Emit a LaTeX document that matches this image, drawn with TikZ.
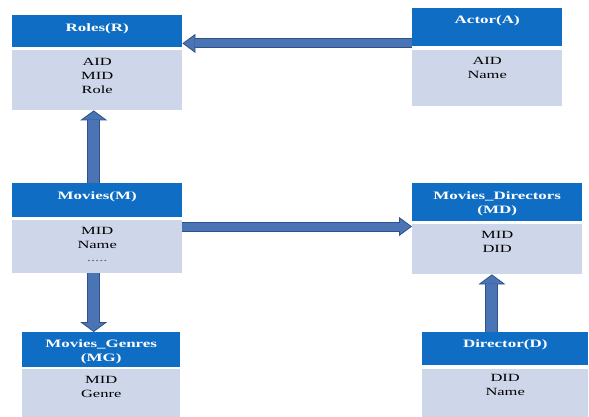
\documentclass[tikz,border=0pt]{standalone}
\usepackage{fontspec}
\setmainfont{Liberation Serif}[FakeStretch=1.5]
\usetikzlibrary{arrows.meta,calc}
\definecolor{hdrblue}{HTML}{0F6DC4}
\definecolor{bodyblue}{HTML}{CED6EA}
\definecolor{arrowfill}{HTML}{4A74B4}
\definecolor{arrowline}{HTML}{2F5288}
\begin{document}
\begin{tikzpicture}[x=1pt,y=-1pt,
  hdr/.style={fill=hdrblue, inner sep=0pt, anchor=north west},
  bdy/.style={fill=bodyblue, inner sep=0pt, anchor=north west},
  ttl/.style={text=white, font=\fontsize{11.3}{14}\selectfont\bfseries, align=center, inner sep=0pt, anchor=north},
  att/.style={text=black, font=\fontsize{11}{13.8}\selectfont, align=center, inner sep=0pt, anchor=north},
  harrow/.style={draw=arrowline, line width=10pt,
    -{Triangle[length=13pt,width=19pt,line width=0.8pt,fill=arrowfill]},
    postaction={draw=arrowfill, line width=8pt, -, shorten >=12.4pt}},
  varrow/.style={draw=arrowline, line width=13pt,
    -{Triangle[length=10pt,width=27pt,line width=0.8pt,fill=arrowfill]},
    postaction={draw=arrowfill, line width=11pt, -, shorten >=9.4pt}}
]
\useasboundingbox (0,0) rectangle (589,417);

% Roles(R)
\node[hdr, minimum width=170pt, minimum height=32pt] (Rh) at (12,15) {};
\node[bdy, minimum width=170pt, minimum height=60pt] (Rb) at (12,50) {};
\node[ttl] (Rt) at ($(Rh.north)+(0,8)$) {Roles(R)};
\node[att] (Ra) at ($(Rb.north)+(0,8)$) {AID\\MID\\Role};

% Actor(A)
\node[hdr, minimum width=150pt, minimum height=38pt] (Ah) at (412,8) {};
\node[bdy, minimum width=150pt, minimum height=56pt] (Ab) at (412,50) {};
\node[ttl] (At) at ($(Ah.north)+(0,7.5)$) {Actor(A)};
\node[att] (Aa) at ($(Ab.north)+(0,7)$) {AID\\Name};

% Movies(M)
\node[hdr, minimum width=170pt, minimum height=34pt] (Mh) at (12,183) {};
\node[bdy, minimum width=170pt, minimum height=53pt] (Mb) at (12,220) {};
\node[ttl] (Mt) at ($(Mh.north)+(0,8)$) {Movies(M)};
\node[att] (Ma) at ($(Mb.north)+(0,7)$) {MID\\Name\\[-1pt]{\color{black!60}.....}};

% Movies_Genres(MG)
\node[hdr, minimum width=158pt, minimum height=35pt] (Gh) at (22,332) {};
\node[bdy, minimum width=158pt, minimum height=48pt] (Gb) at (22,369) {};
\node[ttl] (Gt) at ($(Gh.north)+(0,7.5)$) {Movies\_Genres\\(MG)};
\node[att] (Ga) at ($(Gb.north)+(0,7)$) {MID\\Genre};

% Movies_Directors(MD)
\node[hdr, minimum width=170pt, minimum height=38pt] (Dh) at (412,183) {};
\node[bdy, minimum width=170pt, minimum height=50pt] (Db) at (412,224) {};
\node[ttl] (Dt) at ($(Dh.north)+(0,8)$) {Movies\_Directors\\(MD)};
\node[att] (Da) at ($(Db.north)+(0,7.5)$) {MID\\DID};

% Director(D)
\node[hdr, minimum width=166pt, minimum height=33pt] (Xh) at (422,332) {};
\node[bdy, minimum width=166pt, minimum height=48pt] (Xb) at (422,369) {};
\node[ttl] (Xt) at ($(Xh.north)+(0,7.5)$) {Director(D)};
\node[att] (Xa) at ($(Xb.north)+(0,5.5)$) {DID\\Name};

% connectors
\coordinate (c1) at ($(Ah.south west)+(0,-3)$);
\draw[harrow] (c1) -- (Rh.east |- c1);

\coordinate (c2) at ($(Mh.north)+(-3.5,0)$);
\draw[varrow] (c2) -- (Rb.south -| c2);

\coordinate (c3) at ($(Mb.south)+(-3.5,0)$);
\draw[varrow] (c3) -- (Gh.north -| c3);

\coordinate (c4) at ($(Mb.north east)+(0,6.5)$);
\draw[harrow] (c4) -- (Db.west |- c4);

\coordinate (c5) at ($(Xh.north)+(-13.3,0)$);
\draw[varrow] (c5) -- (Db.south -| c5);
\end{tikzpicture}
\end{document}
